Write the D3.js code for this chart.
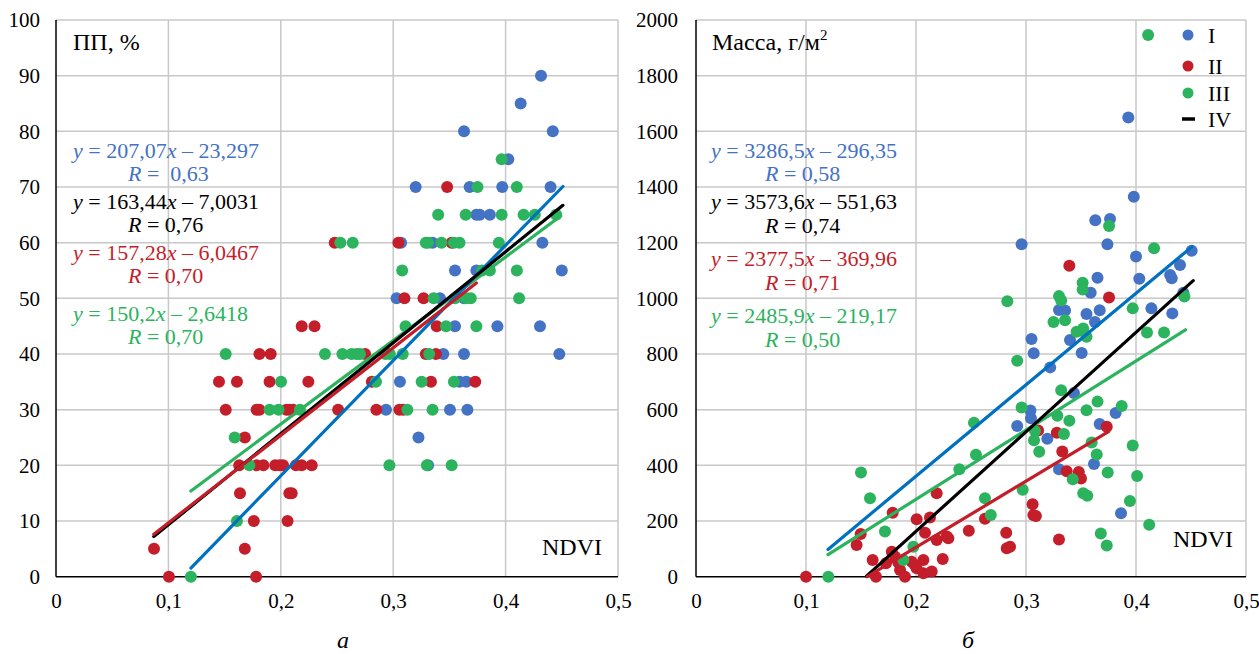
<!DOCTYPE html>
<html><head><meta charset="utf-8">
<script src="https://cdn.jsdelivr.net/npm/d3@7"></script>
<style>
body{margin:0;background:#fff}
svg{display:block}
text{font-family:"Liberation Serif","Times New Roman",serif;fill:#000}
</style>
</head><body>
<svg id="chart" width="1259" height="654"></svg>
<script>
// ---------- tick labels ----------
const xTicks = [0, 0.1, 0.2, 0.3, 0.4, 0.5];
const ppTicks = [0, 10, 20, 30, 40, 50, 60, 70, 80, 90, 100];
const msTicks = [0, 200, 400, 600, 800, 1000, 1200, 1400, 1600, 1800, 2000];
const legendLabels = ["I", "II", "III", "IV"];

// ---------- panel а: ПП, % vs NDVI ----------
const ppI = [[0.4315,90],[0.4134,85],[0.363,80],[0.442,80],[0.4024,75],[0.320,70],[0.368,70],[0.397,70],[0.440,70],
 [0.374,65],[0.377,65],[0.386,65],[0.307,60],[0.335,60],[0.4327,60],[0.355,55],[0.374,55],[0.450,55],
 [0.303,50],[0.3416,50],[0.363,50],[0.355,45],[0.3927,45],[0.4306,45],[0.3446,40],[0.363,40],[0.4478,40],
 [0.306,35],[0.359,35],[0.365,35],[0.2936,30],[0.3505,30],[0.366,30],[0.3225,25],[0.331,20]];
const ppII = [[0.348,70],[0.248,60],[0.3046,60],[0.352,60],[0.310,50],[0.327,50],[0.2186,45],[0.230,45],[0.3387,45],
 [0.181,40],[0.191,40],[0.275,40],[0.329,40],[0.338,40],[0.145,35],[0.161,35],[0.190,35],[0.2245,35],[0.281,35],
 [0.3336,35],[0.373,35],[0.151,30],[0.1785,30],[0.181,30],[0.205,30],[0.208,30],[0.211,30],[0.251,30],[0.285,30],
 [0.3055,30],[0.309,30],[0.168,25],[0.163,20],[0.1785,20],[0.1845,20],[0.195,20],[0.199,20],[0.202,20],[0.2135,20],
 [0.2186,20],[0.2275,20],[0.1637,15],[0.2076,15],[0.2097,15],[0.176,10],[0.206,10],[0.0872,5],[0.168,5],
 [0.1005,0],[0.178,0]];
const ppIII = [[0.3965,75],[0.375,70],[0.410,70],[0.340,65],[0.3645,65],[0.3965,65],[0.416,65],[0.426,65],[0.445,65],
 [0.253,60],[0.264,60],[0.329,60],[0.331,60],[0.343,60],[0.354,60],[0.359,60],[0.394,60],[0.308,55],[0.379,55],
 [0.386,55],[0.410,55],[0.336,50],[0.355,50],[0.365,50],[0.369,50],[0.412,50],[0.311,45],[0.347,45],[0.374,45],
 [0.151,40],[0.2393,40],[0.2548,40],[0.263,40],[0.2675,40],[0.2705,40],[0.293,40],[0.297,40],[0.3085,40],[0.332,40],
 [0.2002,35],[0.2847,35],[0.3253,35],[0.354,35],[0.190,30],[0.198,30],[0.217,30],[0.3126,30],[0.335,30],
 [0.159,25],[0.172,20],[0.2966,20],[0.330,20],[0.352,20],[0.161,10],[0.120,0]];

// regression lines, order: I, IV, II, III
const fitNames = ["I", "IV", "II", "III"];
const ppSlope = [207.07, 163.44, 157.28, 150.2];
const ppIntercept = [-23.297, -7.0031, -6.0467, -2.6418];
const ppR = ["\u00a00,63", "0,76", "0,70", "0,70"];
const ppXmin = [0.12, 0.087, 0.087, 0.12];
const ppXmax = [0.451, 0.451, 0.374, 0.449];

// ---------- panel б: Масса, г/м2 vs NDVI ----------
const msI = [[0.393,1650],[0.398,1365],[0.363,1281],[0.3764,1285],[0.296,1194],[0.374,1194],[0.4506,1171],[0.400,1150],
 [0.440,1120],[0.403,1070],[0.365,1074],[0.431,1084],[0.4325,1072],[0.3588,1020],[0.443,1020],[0.330,958],[0.3355,956],
 [0.355,944],[0.367,957],[0.3627,915],[0.414,964],[0.433,946],[0.340,850],[0.305,854],[0.307,803],[0.3506,804],
 [0.322,752],[0.3436,660],[0.3815,588],[0.304,597],[0.3045,569],[0.292,541],[0.3194,496],[0.367,549],[0.3618,405],
 [0.330,386],[0.3864,228]];
const msII = [[0.100,0],[0.1497,153],[0.146,114],[0.1788,230],[0.2188,300],[0.2006,206],[0.2127,213],[0.2082,158],
 [0.2188,132],[0.2279,144],[0.2294,138],[0.2243,64],[0.248,165],[0.1606,60],[0.1636,0],[0.178,90],[0.181,72],
 [0.1727,48],[0.184,50],[0.1855,24],[0.19,0],[0.196,54],[0.199,42],[0.2006,30],[0.2067,60],[0.2067,12],[0.2143,19],
 [0.2627,208],[0.282,158],[0.2825,102],[0.2855,108],[0.306,260],[0.3067,222],[0.309,218],[0.311,525],[0.328,517],
 [0.330,134],[0.333,450],[0.337,379],[0.348,376],[0.350,353],[0.3394,1117],[0.3755,1003],[0.3734,539]];
const msIII = [[0.411,1946],[0.3755,1260],[0.4164,1180],[0.3515,1056],[0.3515,1032],[0.330,1008],[0.332,992],[0.283,990],
 [0.444,1007],[0.325,915],[0.3355,921],[0.346,880],[0.352,892],[0.355,862],[0.397,964],[0.410,877],[0.4255,877],
 [0.292,776],[0.332,670],[0.296,608],[0.365,629],[0.355,598],[0.387,613],[0.3285,578],[0.3394,560],[0.2527,553],
 [0.3082,523],[0.3073,490],[0.3345,513],[0.312,449],[0.3597,482],[0.397,471],[0.3643,439],[0.3743,374],[0.401,362],
 [0.3425,350],[0.352,300],[0.3557,291],[0.3945,272],[0.412,187],[0.368,155],[0.3734,112],[0.2545,438],[0.2394,386],
 [0.297,312],[0.2627,282],[0.268,222],[0.150,374],[0.1582,282],[0.1718,162],[0.1976,108],[0.1885,60],[0.1203,0]];

const msSlope = [3286.5, 3573.6, 2377.5, 2485.9];
const msIntercept = [-296.35, -551.63, -369.96, -219.17];
const msR = ["0,58", "0,74", "0,71", "0,50"];
const msXmin = [0.12, 0.155, 0.1556, 0.12];
const msXmax = [0.451, 0.452, 0.375, 0.445];

// ---------- styling ----------
const dotColor = {I: "#4472C4", II: "#C41E2A", III: "#2BB35E", IV: "#000"};
const lineColor = {I: "#0070C0", II: "#C41E2A", III: "#2BB35E", IV: "#000"};
const textColor = {I: "#4472C4", II: "#C41E2A", III: "#2BB35E", IV: "#000"};

const svg = d3.select("#chart");
svg.append("rect").attr("width", 1259).attr("height", 654).attr("fill", "#fff");

const comma = d => d === 0 ? "0" : String(d).replace(".", ",");

function panel(cfg) {
  const x = d3.scaleLinear().domain([0, 0.5]).range([cfg.x0, cfg.x1]);
  const y = d3.scaleLinear().domain([0, cfg.ymax]).range([576.7, 20]);
  const g = svg.append("g");

  // grid
  g.selectAll(".vg").data(xTicks.filter(d => d > 0)).enter().append("line")
    .attr("x1", d => x(d)).attr("x2", d => x(d)).attr("y1", y(0)).attr("y2", y(cfg.ymax))
    .attr("stroke", "#C8C8C8").attr("stroke-width", 1.5);
  g.selectAll(".hg").data(cfg.yTicks.filter(d => d > 0)).enter().append("line")
    .attr("x1", x(0)).attr("x2", x(0.5)).attr("y1", d => y(d)).attr("y2", d => y(d))
    .attr("stroke", "#C8C8C8").attr("stroke-width", 1.5);

  // axes
  const ax = g.append("g").attr("transform", `translate(0,${y(0)})`)
    .call(d3.axisBottom(x).tickValues(xTicks).tickFormat(comma).tickSize(0).tickPadding(16.5));
  const ay = g.append("g").attr("transform", `translate(${x(0)},0)`)
    .call(d3.axisLeft(y).tickValues(cfg.yTicks).tickFormat(d => String(d)).tickSize(0).tickPadding(cfg.ypad));
  [ax, ay].forEach(a => {
    a.attr("font-family", null).attr("font-size", null);
    a.select(".domain").remove();
    a.selectAll("text").attr("font-size", 21).style("font-family", '"Liberation Serif", serif').attr("fill", "#000");
  });
  g.append("line").attr("x1", x(0)).attr("x2", x(0)).attr("y1", y(0)).attr("y2", y(cfg.ymax))
    .attr("stroke", "#000").attr("stroke-width", 1.5);
  g.append("line").attr("x1", x(0)).attr("x2", x(0.5)).attr("y1", y(0)).attr("y2", y(0))
    .attr("stroke", "#000").attr("stroke-width", 1.5);

  // points
  cfg.series.forEach(s => {
    g.append("g").selectAll("circle").data(s.data).enter().append("circle")
      .attr("cx", d => x(d[0])).attr("cy", d => y(d[1])).attr("r", 6)
      .attr("fill", dotColor[s.name]);
  });

  // trend lines: draw order III, I, IV, II
  const order = ["III", "I", "IV", "II"];
  order.forEach(n => {
    const i = fitNames.indexOf(n);
    const f = v => cfg.slope[i] * v + cfg.intercept[i];
    const pts = [cfg.xmin[i], cfg.xmax[i]].map(v => [v, f(v)]);
    g.append("path").datum(pts)
      .attr("d", d3.line().x(d => x(d[0])).y(d => y(d[1])))
      .attr("stroke", lineColor[n]).attr("stroke-width", 3.2).attr("fill", "none")
      .attr("stroke-linecap", "round");
  });

  // equations
  fitNames.forEach((n, i) => {
    const t = g.append("text").attr("x", cfg.eqX).attr("y", cfg.eqY[i][0])
      .attr("font-size", 22).style("fill", textColor[n]);
    t.append("tspan").attr("font-style", "italic").text("y");
    t.append("tspan").text(" = " + comma(cfg.slope[i]));
    t.append("tspan").attr("font-style", "italic").text("x");
    t.append("tspan").text(" \u2013 " + comma(-cfg.intercept[i]));
    const r = g.append("text").attr("x", cfg.rX).attr("y", cfg.eqY[i][1])
      .attr("font-size", 22).style("fill", textColor[n]);
    r.append("tspan").attr("font-style", "italic").text("R");
    r.append("tspan").text(" = " + cfg.r[i]);
  });

  // titles
  const tt = g.append("text").attr("x", cfg.titleX).attr("y", 50).attr("font-size", 24);
  cfg.title(tt);
  g.append("text").attr("x", cfg.ndviX).attr("y", cfg.ndviY).attr("font-size", 24).text("NDVI");
  g.append("text").attr("x", cfg.letterX).attr("y", 648).attr("font-size", 24)
    .attr("font-style", "italic").attr("text-anchor", "middle").text(cfg.letter);
  return {x, y, g};
}

panel({
  x0: 56, x1: 618, ymax: 100, yTicks: ppTicks, ypad: 16,
  series: [{name: "I", data: ppI}, {name: "II", data: ppII}, {name: "III", data: ppIII}],
  slope: ppSlope, intercept: ppIntercept, r: ppR, xmin: ppXmin, xmax: ppXmax,
  eqX: 73, rX: 128, eqY: [[158, 181], [209, 232], [260, 283], [321, 344]],
  titleX: 73, title: t => t.text("ПП, %"),
  ndviX: 542, ndviY: 555, letterX: 343, letter: "а"
});

panel({
  x0: 696, x1: 1246, ymax: 2000, yTicks: msTicks, ypad: 18,
  series: [{name: "I", data: msI}, {name: "II", data: msII}, {name: "III", data: msIII}],
  slope: msSlope, intercept: msIntercept, r: msR, xmin: msXmin, xmax: msXmax,
  eqX: 711, rX: 765, eqY: [[158, 181], [209, 233], [266, 290], [323, 347]],
  titleX: 712, title: t => { t.append("tspan").text("Масса, г/м"); t.append("tspan").attr("font-size", 15).attr("dy", -10).text("2"); },
  ndviX: 1173, ndviY: 547, letterX: 968, letter: "б"
});

// legend
const legY = [35, 66, 93, 119];
const leg = svg.append("g");
legendLabels.forEach((n, i) => {
  if (n === "IV") {
    leg.append("line").attr("x1", 1182).attr("x2", 1195).attr("y1", legY[i]).attr("y2", legY[i])
      .attr("stroke", "#000").attr("stroke-width", 3.5);
  } else {
    leg.append("circle").attr("cx", 1188).attr("cy", legY[i]).attr("r", 5.5).attr("fill", dotColor[n]);
  }
  leg.append("text").attr("x", 1208).attr("y", legY[i] + 7.5).attr("font-size", 22).text(n);
});
</script>
</body></html>
